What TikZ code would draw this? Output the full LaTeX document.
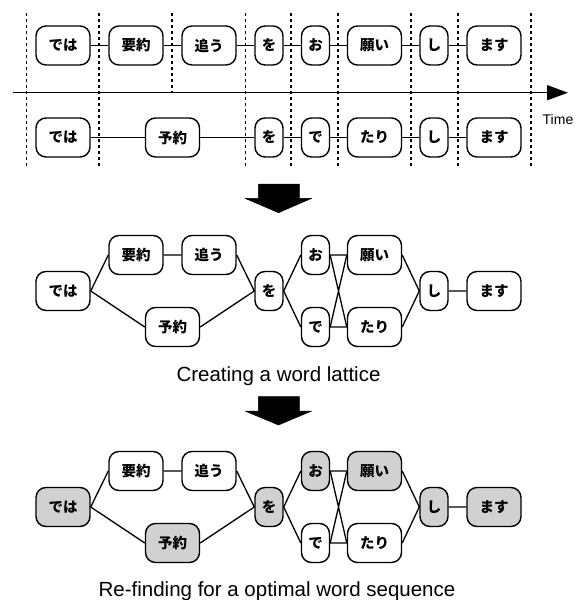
\documentclass[tikz,border=0pt]{standalone}
\usepackage{fontspec}
\setmainfont{Liberation Sans}
\newfontfamily\jp{Noto Sans CJK JP}
\usetikzlibrary{arrows.meta}
\begin{document}
\begin{tikzpicture}[x=1pt,y=-1pt,
  word/.style={draw,line width=1.4pt,rounded corners=10pt,minimum height=39pt,inner sep=0pt,font=\jp\bfseries\fontsize{14.5}{14.5}\selectfont},
  wide/.style={word,minimum width=54pt},
  narrow/.style={word,minimum width=28pt},
  best/.style={fill=black!18},
  conn/.style={line width=1.3pt},
  grid/.style={line width=1.3pt,dash pattern=on 3pt off 3pt},
  bigarrow/.style={fill=black,draw=black,line width=0.5pt,line join=round},
  caption/.style={font=\fontsize{20.5}{20.5}\selectfont,inner sep=0pt,anchor=base}]
\useasboundingbox (0,0) rectangle (579,600);

% ---- time-aligned view ----
\foreach \x in {26.7,99,245.7,291,338,411,458,531}
  \draw[grid] (\x,13) -- (\x,167);
\draw[grid] (172,13) -- (172,92.7);
\coordinate (axL) at (13,92.7);
\coordinate (axR) at (568,92.7);
\draw[line width=1.5pt,-{Triangle[length=21pt,width=15pt]}] (axL) -- (axR);
\node[font=\fontsize{14}{14}\selectfont,inner sep=0pt,anchor=base west] (time) at (542.5,124) {Time};

\node[wide]   (a1) at (63,45.5)    {では};
\node[wide]   (a2) at (136,45.5)   {要約};
\node[wide]   (a3) at (209,45.5)   {追う};
\node[narrow] (a4) at (269,45.5)   {を};
\node[narrow] (a5) at (315.5,45.5) {お};
\node[wide]   (a6) at (374.5,45.5) {願い};
\node[narrow] (a7) at (434,45.5)   {し};
\node[wide]   (a8) at (494,45.5)   {ます};
\draw[conn] (a1)--(a2) (a2)--(a3) (a3)--(a4) (a4)--(a5) (a5)--(a6) (a6)--(a7) (a7)--(a8);

\node[wide]   (b1) at (63,137.5)    {では};
\node[wide]   (b2) at (172.5,137.5) {予約};
\node[narrow] (b3) at (269,137.5)   {を};
\node[narrow] (b4) at (315.5,137.5) {で};
\node[wide]   (b5) at (374.5,137.5) {たり};
\node[narrow] (b6) at (434,137.5)   {し};
\node[wide]   (b7) at (494,137.5)   {ます};
\draw[conn] (b1)--(b2) (b2)--(b3) (b3)--(b4) (b4)--(b5) (b5)--(b6) (b6)--(b7);

% ---- arrow 1 ----
\fill[bigarrow] (258.3,184) -- (299.3,184) -- (299.3,198.3) -- (311.7,198.3) -- (278.5,212.7) -- (245,198.3) -- (258.3,198.3) -- cycle;

% ---- lattice ----
\node[wide]   (c1) at (63,291)     {では};
\node[wide]   (c2) at (136,255)    {要約};
\node[wide]   (c3) at (209,255)    {追う};
\node[wide]   (c4) at (172.5,327)  {予約};
\node[narrow] (c5) at (269,291)    {を};
\node[narrow] (c6) at (315.5,255)  {お};
\node[narrow] (c7) at (315.5,327)  {で};
\node[wide]   (c8) at (374.5,255)  {願い};
\node[wide]   (c9) at (374.5,327)  {たり};
\node[narrow] (c10) at (434,291)   {し};
\node[wide]   (c11) at (494,291)   {ます};
\draw[conn] (c1.east)--(c2.west) (c2)--(c3) (c3.east)--(c5.west)
  (c1.east)--(c4.west) (c4.east)--(c5.west)
  (c5.east)--(c6.west) (c5.east)--(c7.west)
  (c6.east)--(c8.west) (c6.east)--(c9.west) (c7.east)--(c8.west) (c7.east)--(c9.west)
  (c8.east)--(c10.west) (c9.east)--(c10.west) (c10)--(c11);
\node[caption] (cap1) at (278.5,381) {Creating a word lattice};

% ---- arrow 2 ----
\fill[bigarrow] (258.3,396.7) -- (299.3,396.7) -- (299.3,411) -- (311.7,411) -- (278.5,425) -- (245,411) -- (258.3,411) -- cycle;

% ---- best path ----
\node[wide,best]   (d1) at (63,507)     {では};
\node[wide]        (d2) at (136,471)    {要約};
\node[wide]        (d3) at (209,471)    {追う};
\node[wide,best]   (d4) at (172.5,543)  {予約};
\node[narrow,best] (d5) at (269,507)    {を};
\node[narrow,best] (d6) at (315.5,471)  {お};
\node[narrow]      (d7) at (315.5,543)  {で};
\node[wide,best]   (d8) at (374.5,471)  {願い};
\node[wide]        (d9) at (374.5,543)  {たり};
\node[narrow,best] (d10) at (434,507)   {し};
\node[wide,best]   (d11) at (494,507)   {ます};
\draw[conn] (d1.east)--(d2.west) (d2)--(d3) (d3.east)--(d5.west)
  (d1.east)--(d4.west) (d4.east)--(d5.west)
  (d5.east)--(d6.west) (d5.east)--(d7.west)
  (d6.east)--(d8.west) (d6.east)--(d9.west) (d7.east)--(d8.west) (d7.east)--(d9.west)
  (d8.east)--(d10.west) (d9.east)--(d10.west) (d10)--(d11);
\node[caption] (cap2) at (277,596.7) {Re-finding for a optimal word sequence};
\end{tikzpicture}
\end{document}
